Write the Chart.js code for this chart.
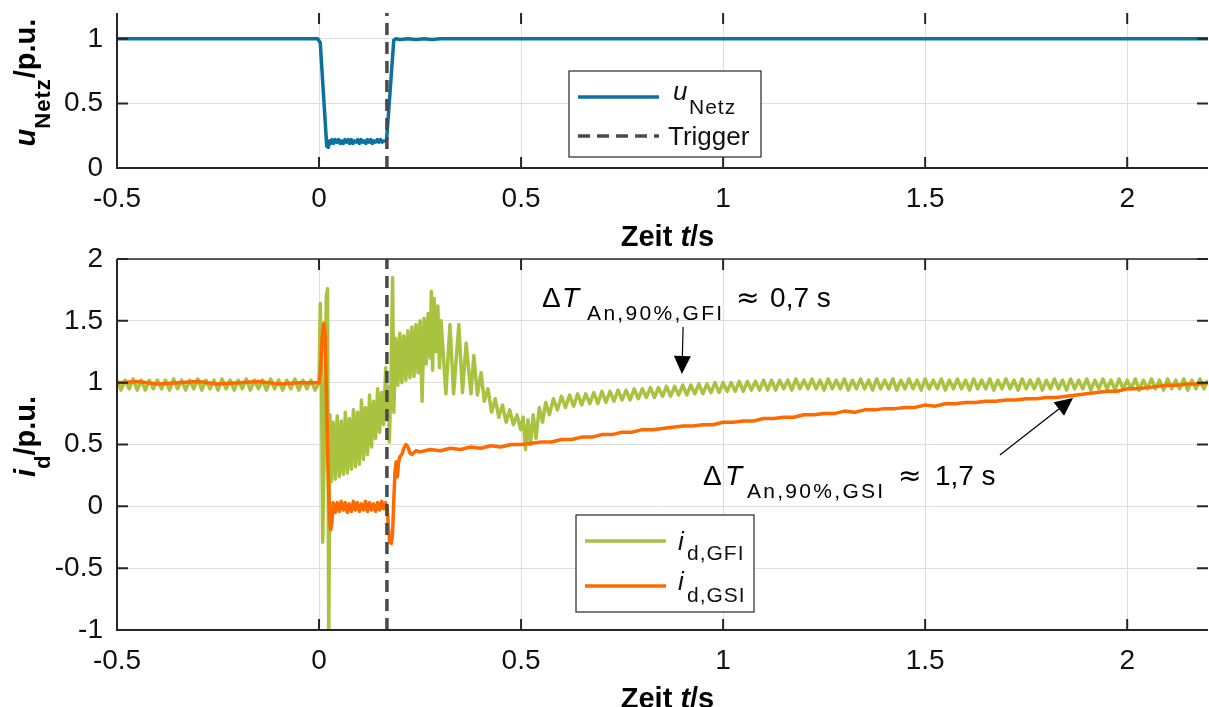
<!DOCTYPE html>
<html lang="de">
<head>
<meta charset="utf-8">
<title>Spannungseinbruch – u_Netz und i_d</title>
<script src="https://cdn.jsdelivr.net/npm/chart.js@4.4.1/dist/chart.umd.min.js"></script>
<style>
  html, body { margin: 0; padding: 0; background: #fff; overflow: hidden; }
  canvas { position: absolute; left: 0; }
  #oben { top: -30px; }
  #unten { top: 220px; }
</style>
</head>
<body>
<canvas id="oben" width="1209" height="280"></canvas>
<canvas id="unten" width="1209" height="487"></canvas>
<script>
// ---------- Achsen ----------
const xBereich = [-0.5, 2.2];
const xTicks = [-0.5, 0, 0.5, 1, 1.5, 2];
const yBereichOben = [0, 1.2];
const yTicksOben = [0, 0.5, 1];
const yBereichUnten = [-1, 2];
const yTicksUnten = [-1, -0.5, 0, 0.5, 1, 1.5, 2];

// ---------- Trigger ----------
const triggerZeit = 0.168;

// ---------- u_Netz ----------
const uNetzZeit = [-0.5, -0.003, 0.003, 0.019, 0.023, 0.026,
  0.028, 0.032, 0.036, 0.040, 0.044, 0.048, 0.052, 0.056, 0.060, 0.064,
  0.068, 0.072, 0.076, 0.080, 0.084, 0.088, 0.092, 0.096, 0.100, 0.104,
  0.108, 0.112, 0.116, 0.120, 0.124, 0.128, 0.132, 0.136, 0.140, 0.144,
  0.148, 0.152, 0.156, 0.160, 0.164,
  0.167, 0.185, 0.19, 0.20, 0.22, 0.24, 0.26, 0.28, 0.30, 2.2];
const uNetzWerte = [1.00, 1.00, 0.97, 0.17, 0.16, 0.21,
  0.19, 0.22, 0.19, 0.22, 0.20, 0.22, 0.19, 0.21, 0.19, 0.22,
  0.20, 0.22, 0.19, 0.22, 0.19, 0.21, 0.20, 0.22, 0.19, 0.22,
  0.20, 0.21, 0.19, 0.22, 0.20, 0.22, 0.19, 0.21, 0.20, 0.22,
  0.20, 0.22, 0.20, 0.21, 0.21,
  0.21, 0.99, 1.00, 0.995, 1.00, 0.995, 1.00, 0.995, 1.00, 1.00];

// ---------- i_d,GFI ----------
// vor dem Fehler, Abtastung 10 ms ab -0.5 s
const gfiVorWerte = [1.02, 0.94, 1.02, 0.95, 1.03, 0.94, 1.02, 0.94, 1.02, 0.95,
  1.02, 0.95, 1.02, 0.94, 1.03, 0.95, 1.02, 0.94, 1.02, 0.95,
  1.03, 0.94, 1.02, 0.95, 1.02, 0.94, 1.03, 0.95, 1.02, 0.94,
  1.02, 0.95, 1.03, 0.94, 1.02, 0.95, 1.02, 0.94, 1.03, 0.95,
  1.02, 0.94, 1.02, 0.95, 1.03, 0.94, 1.02, 0.95, 1.02, 0.94];
// Fehler und Wiederkehr
const gfiFehlerZeit = [0, 0.003, 0.006, 0.009, 0.013, 0.018, 0.021, 0.024, 0.027, 0.030,
  0.035, 0.040, 0.045, 0.050, 0.055, 0.060, 0.065, 0.070, 0.075, 0.080,
  0.085, 0.090, 0.095, 0.100, 0.105, 0.110, 0.115, 0.120, 0.125, 0.130,
  0.135, 0.140, 0.145, 0.150, 0.155, 0.160, 0.165, 0.168, 0.171, 0.174,
  0.178, 0.182, 0.185, 0.190, 0.195, 0.200, 0.205, 0.210, 0.215, 0.220,
  0.225, 0.230, 0.235, 0.240, 0.245, 0.250, 0.255, 0.260, 0.265, 0.270,
  0.275, 0.278, 0.281, 0.285, 0.290, 0.294, 0.298, 0.302, 0.314, 0.324,
  0.333, 0.346, 0.355, 0.364, 0.376, 0.383, 0.392, 0.401, 0.409, 0.418,
  0.427, 0.436, 0.445, 0.454, 0.463, 0.472, 0.481, 0.490, 0.499, 0.505,
  0.511, 0.517, 0.523, 0.530, 0.537, 0.545, 0.553, 0.561, 0.570, 0.580,
  0.590, 0.600, 0.610];
const gfiFehlerWerte = [1.00, 1.64, 1.10, -0.29, 0.50, 1.70, 1.76, -1.10, 0.74, 0.20,
  0.68, 0.22, 0.73, 0.24, 0.69, 0.26, 0.76, 0.27, 0.71, 0.30,
  0.78, 0.32, 0.76, 0.34, 0.86, 0.38, 0.80, 0.42, 0.90, 0.48,
  0.85, 0.55, 0.95, 0.60, 0.92, 0.66, 1.12, 0.70, 0.97, 0.52,
  1.00, 1.85, 0.76, 1.36, 0.98, 1.40, 1.00, 1.38, 1.02, 1.42,
  1.04, 1.45, 1.05, 1.47, 1.08, 1.50, 0.85, 1.52, 1.15, 1.56,
  1.20, 1.74, 1.10, 1.68, 1.25, 1.62, 1.12, 1.50, 0.91, 1.47,
  0.91, 1.47, 0.92, 1.32, 0.91, 1.22, 0.90, 1.08, 0.85, 0.95,
  0.76, 0.87, 0.72, 0.82, 0.68, 0.78, 0.66, 0.74, 0.62, 0.72,
  0.46, 0.70, 0.50, 0.74, 0.55, 0.80, 0.68, 0.84, 0.74, 0.87,
  0.78, 0.89, 0.80];
// nach dem Fehler, Abtastung 10 ms ab 0.62 s
const gfiNachWerte = [0.90, 0.81, 0.91, 0.82, 0.91, 0.83, 0.92, 0.83, 0.93, 0.84,
  0.93, 0.85, 0.94, 0.86, 0.94, 0.86, 0.95, 0.87, 0.95, 0.88,
  0.96, 0.88, 0.96, 0.89, 0.97, 0.89, 0.97, 0.90, 0.98, 0.90,
  0.98, 0.91, 0.99, 0.91, 0.99, 0.92, 1.00, 0.92, 1.00, 0.93,
  1.00, 0.93, 1.01, 0.93, 1.01, 0.94, 1.01, 0.94, 1.02, 0.94,
  1.02, 0.94, 1.02, 0.95, 1.02, 0.94, 1.03, 0.95, 1.02, 0.95,
  1.03, 0.95, 1.02, 0.94, 1.03, 0.95, 1.02, 0.95, 1.03, 0.94,
  1.02, 0.95, 1.03, 0.95, 1.02, 0.94, 1.03, 0.95, 1.02, 0.95,
  1.03, 0.94, 1.02, 0.95, 1.03, 0.95, 1.02, 0.94, 1.03, 0.95,
  1.02, 0.95, 1.03, 0.94, 1.02, 0.95, 1.03, 0.95, 1.02, 0.94,
  1.03, 0.95, 1.02, 0.95, 1.03, 0.94, 1.02, 0.95, 1.03, 0.95,
  1.02, 0.94, 1.03, 0.95, 1.02, 0.95, 1.03, 0.94, 1.02, 0.95,
  1.03, 0.95, 1.02, 0.94, 1.03, 0.95, 1.02, 0.95, 1.03, 0.94,
  1.02, 0.95, 1.03, 0.95, 1.02, 0.94, 1.03, 0.95, 1.02, 0.95,
  1.03, 0.94, 1.02, 0.95, 1.03, 0.95, 1.02, 0.94, 1.03, 0.95,
  1.02, 0.95, 1.03, 0.94, 1.02, 0.95, 1.03, 0.95, 1.02];

// ---------- i_d,GSI ----------
const gsiZeit = [-0.5, -0.45, -0.4, -0.35, -0.3, -0.25, -0.2, -0.15, -0.1, -0.05,
  0, 0.004, 0.008, 0.012, 0.015, 0.018, 0.022, 0.026, 0.029, 0.032, 0.035,
  0.040, 0.045, 0.050, 0.055, 0.060, 0.065, 0.070, 0.075, 0.080, 0.085,
  0.090, 0.095, 0.100, 0.105, 0.110, 0.115, 0.120, 0.125, 0.130, 0.135,
  0.140, 0.145, 0.150, 0.155, 0.160, 0.165,
  0.169, 0.172, 0.175, 0.179, 0.182, 0.185, 0.188, 0.191, 0.194, 0.197,
  0.2, 0.205, 0.21, 0.215, 0.22, 0.225, 0.23, 0.24, 0.25, 0.275,
  0.3, 0.325, 0.35, 0.375, 0.4, 0.425, 0.45, 0.475, 0.5];
const gsiWerte = [1.00, 1.01, 0.99, 1.00, 1.01, 0.99, 1.00, 1.01, 0.99, 1.00,
  1.00, 1.10, 1.38, 1.48, 1.40, 0.95, 0.35, -0.10, -0.19, -0.12, 0.03,
  -0.05, 0.03, -0.04, 0.04, -0.03, 0.03, -0.05, 0.02, -0.04, 0.04,
  -0.03, 0.03, -0.04, 0.02, -0.03, 0.04, -0.04, 0.03, -0.03, 0.02,
  -0.04, 0.03, -0.03, 0.04, -0.02, 0.03,
  -0.02, -0.18, -0.29, -0.30, -0.22, 0.05, 0.28, 0.36, 0.24, 0.36,
  0.40, 0.42, 0.47, 0.50, 0.48, 0.43, 0.42, 0.45, 0.44, 0.46,
  0.45, 0.47, 0.46, 0.48, 0.47, 0.49, 0.48, 0.50, 0.50];
// langsamer Anstieg, Abtastung 25 ms ab 0.525 s
const gsiRampeWerte = [0.51, 0.52, 0.52, 0.54, 0.54, 0.56, 0.56, 0.58, 0.58, 0.60,
  0.60, 0.62, 0.62, 0.63, 0.64, 0.65, 0.65, 0.66, 0.66, 0.68,
  0.68, 0.69, 0.69, 0.71, 0.71, 0.72, 0.72, 0.74, 0.74, 0.75,
  0.75, 0.77, 0.76, 0.78, 0.78, 0.79, 0.79, 0.80, 0.80, 0.82,
  0.81, 0.83, 0.83, 0.84, 0.84, 0.85, 0.85, 0.86, 0.86, 0.87,
  0.87, 0.88, 0.88, 0.89, 0.90, 0.91, 0.92, 0.93, 0.93, 0.95,
  0.95, 0.96, 0.97, 0.98, 0.98, 0.99, 0.99, 1.00];

// ---------- Anmerkungen (Datenkoordinaten t/s, i_d/p.u.) ----------
const anmerkungGfi = { t: 0.552, v: 1.611, pfeilVon: [0.901, 1.45], pfeilNach: [0.898, 1.07] };
const anmerkungGsi = { t: 0.950, v: 0.172, pfeilVon: [1.685, 0.415], pfeilNach: [1.866, 0.876] };

// ---------- Darstellung ----------
const SCHRIFT = '"Liberation Sans", Arial, Helvetica, sans-serif';
const ACHSE = '#262626';
const GITTER = '#dedede';
const TICKLAENGE = 11;
const BLAU = '#0b72a0';
const GRUEN = '#a9c23f';
const ORANGE = '#ff6a00';
const GRAU = '#4a4a4a';

const f = (groesse, stil = '') => `${stil} ${groesse}px ${SCHRIFT}`.trim();
const fMathe = groesse => `${groesse}px "DejaVu Sans", ${SCHRIFT}`;

function raster(start, schritt, anzahl) {
  return Array.from({ length: anzahl }, (_, i) => Math.round((start + i * schritt) * 1000) / 1000);
}
function punkte(zeit, werte) {
  return werte.map((v, i) => ({ x: zeit[i], y: v }));
}

function zeichneTeile(ctx, teile, x, y) {
  let cx = x;
  for (const t of teile) {
    if (t.x !== undefined) cx = x + t.x;
    ctx.font = t.font;
    ctx.letterSpacing = t.abstand || '0px';
    ctx.fillText(t.text, cx, y + (t.dy || 0));
    cx += ctx.measureText(t.text).width;
  }
  ctx.letterSpacing = '0px';
}
function textBreite(ctx, teile) {
  let w = 0;
  for (const t of teile) {
    ctx.font = t.font;
    ctx.letterSpacing = t.abstand || '0px';
    w += ctx.measureText(t.text).width;
  }
  ctx.letterSpacing = '0px';
  return w;
}
function pfeil(ctx, x1, y1, x2, y2) {
  const w = Math.atan2(y2 - y1, x2 - x1), L = 18, B = 8.5;
  const bx = x2 - L * Math.cos(w), by = y2 - L * Math.sin(w);
  ctx.beginPath();
  ctx.moveTo(x1, y1); ctx.lineTo(bx, by);
  ctx.stroke();
  ctx.beginPath();
  ctx.moveTo(x2, y2);
  ctx.lineTo(bx + B * Math.sin(w), by - B * Math.cos(w));
  ctx.lineTo(bx - B * Math.sin(w), by + B * Math.cos(w));
  ctx.closePath();
  ctx.fill();
}

// MATLAB-artiger Rahmen, Legende, Achsentitel, Anmerkungen
function matlabPlugin(opt) {
  return {
    id: 'matlab',
    afterDatasetsDraw(chart) {
      const { ctx, chartArea: ca, scales: { x, y } } = chart;
      ctx.save();
      ctx.setLineDash([]);
      ctx.strokeStyle = ACHSE;
      ctx.lineWidth = 2;
      ctx.beginPath();
      for (const t of x.ticks) {
        const px = x.getPixelForValue(t.value);
        ctx.moveTo(px, ca.bottom); ctx.lineTo(px, ca.bottom - TICKLAENGE);
        ctx.moveTo(px, ca.top); ctx.lineTo(px, ca.top + TICKLAENGE);
      }
      for (const t of y.ticks) {
        const py = y.getPixelForValue(t.value);
        ctx.moveTo(ca.left, py); ctx.lineTo(ca.left + TICKLAENGE, py);
        ctx.moveTo(ca.right, py); ctx.lineTo(ca.right - TICKLAENGE, py);
      }
      ctx.stroke();
      ctx.beginPath();
      ctx.moveTo(ca.left, ca.top); ctx.lineTo(ca.left, ca.bottom); ctx.lineTo(ca.right, ca.bottom);
      ctx.stroke();
      if (opt.obereLinie) {
        ctx.lineWidth = 1.3;
        ctx.beginPath();
        ctx.moveTo(ca.left, ca.top); ctx.lineTo(ca.right, ca.top);
        ctx.stroke();
      }

      // Anmerkungen
      ctx.fillStyle = '#000';
      ctx.strokeStyle = '#000';
      ctx.lineWidth = 1.2;
      ctx.textBaseline = 'alphabetic';
      ctx.textAlign = 'left';
      for (const a of opt.anmerkungen || []) {
        zeichneTeile(ctx, a.teile, x.getPixelForValue(a.t), y.getPixelForValue(a.v));
        pfeil(ctx, x.getPixelForValue(a.pfeilVon[0]), y.getPixelForValue(a.pfeilVon[1]),
          x.getPixelForValue(a.pfeilNach[0]), y.getPixelForValue(a.pfeilNach[1]));
      }

      // Legende
      const lg = opt.legende;
      const lx = ca.left + lg.x, ly = ca.top + lg.y;
      ctx.fillStyle = '#fff';
      ctx.fillRect(lx, ly, lg.b, lg.h);
      ctx.strokeStyle = ACHSE;
      ctx.lineWidth = 1.2;
      ctx.strokeRect(lx, ly, lg.b, lg.h);
      for (const e of lg.eintraege) {
        const ds = chart.data.datasets[e.ds];
        ctx.strokeStyle = ds.borderColor;
        ctx.lineWidth = ds.borderWidth;
        ctx.setLineDash(ds.borderDash || []);
        ctx.beginPath();
        ctx.moveTo(ca.left + lg.linieVon, ca.top + e.linieY);
        ctx.lineTo(ca.left + lg.linieBis, ca.top + e.linieY);
        ctx.stroke();
        ctx.setLineDash([]);
        ctx.fillStyle = '#111';
        zeichneTeile(ctx, e.teile, ca.left + e.textX, ca.top + e.textY);
      }
      ctx.restore();
    },
    afterDraw(chart) {
      const { ctx, chartArea: ca } = chart;
      ctx.save();
      ctx.fillStyle = '#000';
      ctx.textBaseline = 'alphabetic';
      ctx.textAlign = 'left';
      // y-Titel, gedreht
      const wy = textBreite(ctx, opt.yTitel);
      ctx.save();
      ctx.translate(35, (ca.top + ca.bottom) / 2 - 8);
      ctx.rotate(-Math.PI / 2);
      zeichneTeile(ctx, opt.yTitel, -wy / 2, 0);
      ctx.restore();
      // x-Titel
      const wx = textBreite(ctx, xTitel);
      zeichneTeile(ctx, xTitel, (ca.left + ca.right) / 2 + 5 - wx / 2, ca.bottom + 78);
      ctx.restore();
    }
  };
}

const xTitel = [
  { text: 'Zeit ', font: f(29, 'bold') },
  { text: 't', font: f(29, 'italic bold') },
  { text: '/s', font: f(29, 'bold') }
];

function achsen(yBereich, yTicks, xHoehe) {
  const tickSchrift = { family: SCHRIFT, size: 28 };
  return {
    x: {
      type: 'linear', min: xBereich[0], max: xBereich[1],
      afterBuildTicks: s => { s.ticks = xTicks.map(v => ({ value: v })); },
      ticks: { font: tickSchrift, color: '#111', padding: 14, maxRotation: 0, autoSkip: false, callback: v => String(v) },
      grid: { color: GITTER, lineWidth: 1, drawTicks: false },
      border: { display: false },
      afterFit: s => { s.height = xHoehe; }
    },
    y: {
      type: 'linear', min: yBereich[0], max: yBereich[1],
      afterBuildTicks: s => { s.ticks = yTicks.map(v => ({ value: v })); },
      ticks: { font: tickSchrift, color: '#111', padding: 14, autoSkip: false, callback: v => String(v) },
      grid: { color: GITTER, lineWidth: 1, drawTicks: false },
      border: { display: false },
      afterFit: s => { s.width = 117; }
    }
  };
}

function grundOptionen(obenAbstand) {
  return {
    responsive: false,
    animation: false,
    devicePixelRatio: 1,
    layout: { padding: { top: obenAbstand, right: 1, left: 0, bottom: 0 } },
    plugins: { legend: { display: false }, tooltip: { enabled: false } },
    elements: { point: { radius: 0 }, line: { tension: 0, borderJoinStyle: 'round' } }
  };
}

// ---------- oberes Diagramm: u_Netz ----------
new Chart(document.getElementById('oben'), {
  type: 'line',
  data: {
    datasets: [
      { label: 'Trigger', data: [{ x: triggerZeit, y: yBereichOben[0] }, { x: triggerZeit, y: yBereichOben[1] }],
        borderColor: GRAU, borderWidth: 3.5, borderDash: [12, 7], order: 0 },
      { label: 'u_Netz', data: punkte(uNetzZeit, uNetzWerte), borderColor: BLAU, borderWidth: 3.5, order: 1 }
    ]
  },
  options: { ...grundOptionen(43), scales: achsen(yBereichOben, yTicksOben, 82) },
  plugins: [matlabPlugin({
    obereLinie: false,
    yTitel: [
      { text: 'u', font: f(29, 'italic bold') },
      { text: 'Netz', font: f(22, 'bold'), dy: 15, abstand: '1px' },
      { text: '/p.u.', font: f(29, 'bold') }
    ],
    legende: {
      x: 452, y: 58, b: 192, h: 86, linieVon: 461, linieBis: 542,
      eintraege: [
        { ds: 1, linieY: 84, textX: 556, textY: 87, teile: [
          { text: 'u', font: f(26, 'italic') },
          { text: 'Netz', font: f(21), x: 16, dy: 14, abstand: '1px' }
        ] },
        { ds: 0, linieY: 123, textX: 551, textY: 132, teile: [{ text: 'Trigger', font: f(26) }] }
      ]
    }
  })]
});

// ---------- unteres Diagramm: i_d ----------
const gfiDaten = [
  ...punkte(raster(-0.5, 0.01, gfiVorWerte.length), gfiVorWerte),
  ...punkte(gfiFehlerZeit, gfiFehlerWerte),
  ...punkte(raster(0.62, 0.01, gfiNachWerte.length), gfiNachWerte)
];
const gsiDaten = [
  ...punkte(gsiZeit, gsiWerte),
  ...punkte(raster(0.525, 0.025, gsiRampeWerte.length), gsiRampeWerte)
];

new Chart(document.getElementById('unten'), {
  type: 'line',
  data: {
    datasets: [
      { label: 'Trigger', data: [{ x: triggerZeit, y: yBereichUnten[0] }, { x: triggerZeit, y: yBereichUnten[1] }],
        borderColor: GRAU, borderWidth: 3.5, borderDash: [12, 7], order: 0 },
      { label: 'i_d,GFI', data: gfiDaten, borderColor: GRUEN, borderWidth: 3.5, order: 2 },
      { label: 'i_d,GSI', data: gsiDaten, borderColor: ORANGE, borderWidth: 3.5, order: 1 }
    ]
  },
  options: { ...grundOptionen(39), scales: achsen(yBereichUnten, yTicksUnten, 77) },
  plugins: [matlabPlugin({
    obereLinie: true,
    yTitel: [
      { text: 'i', font: f(29, 'italic bold') },
      { text: 'd', font: f(22, 'bold'), dy: 15 },
      { text: '/p.u.', font: f(29, 'bold') }
    ],
    anmerkungen: [
      { ...anmerkungGfi, teile: [
        { text: 'Δ', font: f(28), x: 0 },
        { text: 'T', font: f(28, 'italic'), x: 20 },
        { text: 'An,90%,GFI', font: f(21), x: 45, dy: 13, abstand: '2.3px' },
        { text: '≈', font: fMathe(28), x: 194 },
        { text: '0,7 s', font: f(28), x: 228 }
      ] },
      { ...anmerkungGsi, teile: [
        { text: 'Δ', font: f(28), x: 0 },
        { text: 'T', font: f(28, 'italic'), x: 22 },
        { text: 'An,90%,GSI', font: f(21), x: 44, dy: 13, abstand: '2.3px' },
        { text: '≈', font: fMathe(28), x: 195 },
        { text: '1,7 s', font: f(28), x: 232 }
      ] }
    ],
    legende: {
      x: 459, y: 256, b: 178, h: 97, linieVon: 468, linieBis: 549,
      eintraege: [
        { ds: 1, linieY: 282, textX: 561, textY: 291, teile: [
          { text: 'i', font: f(26, 'italic') },
          { text: 'd,GFI', font: f(21), x: 9, dy: 10, abstand: '1px' }
        ] },
        { ds: 2, linieY: 327, textX: 561, textY: 331, teile: [
          { text: 'i', font: f(26, 'italic') },
          { text: 'd,GSI', font: f(21), x: 9, dy: 12, abstand: '1px' }
        ] }
      ]
    }
  })]
});
</script>
</body>
</html>
